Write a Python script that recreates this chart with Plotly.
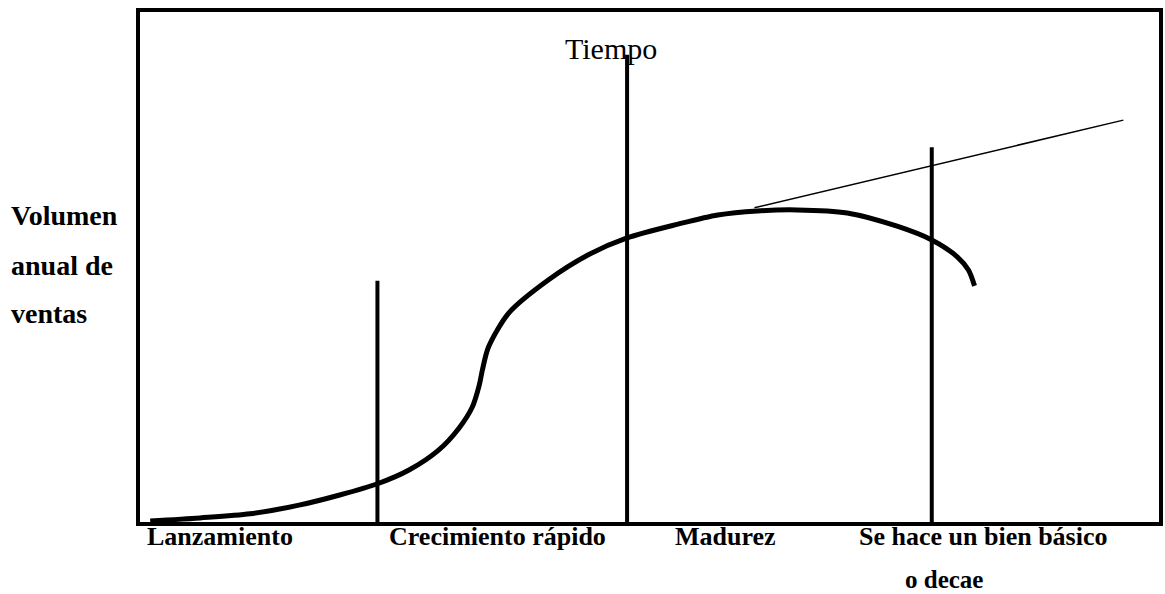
import plotly.graph_objects as go

# Product life cycle curve (time units 0-100, volume units 0-100)
curve_t = [1.0, 5.9, 10.8, 15.6, 19.6, 23.3, 26.4, 29.3, 31.3, 32.6, 33.3, 33.6, 34.2, 36.2,
           40.1, 44.0, 47.8, 52.8, 56.7, 60.6, 64.5, 69.4, 74.3, 77.7, 80.2, 81.3, 81.9]
curve_v = [0.2, 0.8, 1.6, 3.3, 5.3, 7.5, 10.2, 14.1, 18.4, 22.5, 26.9, 29.8, 34.3, 41.0,
           47.5, 52.4, 55.7, 58.4, 60.2, 61.0, 61.2, 60.6, 58.0, 55.3, 52.0, 49.4, 46.3]

# Staple-good trend line
trend_t = [60.3, 96.5]
trend_v = [61.6, 78.8]

# Stage boundaries and heights of their vertical markers
boundary_t = [23.3, 47.8, 77.7]
boundary_top = [47.3, 91.6, 73.5]

# Stage labels
stage_labels = ["Lanzamiento", "Crecimiento rápido", "Madurez", "Se hace un bien básico", "o decae"]
stage_label_t = [0.5, 24.2, 52.3, 70.4]

y_title_lines = ["Volumen", "anual de", "ventas"]
x_title = "Tiempo"

fig = go.Figure()

for t, top in zip(boundary_t, boundary_top):
    fig.add_trace(go.Scatter(x=[t, t], y=[0, top], mode="lines",
                             line=dict(color="black", width=4), hoverinfo="skip"))

fig.add_trace(go.Scatter(x=trend_t, y=trend_v, mode="lines",
                         line=dict(color="black", width=1.5), hoverinfo="skip"))

fig.add_trace(go.Scatter(x=curve_t, y=curve_v, mode="lines",
                         line=dict(color="black", width=5, shape="spline", smoothing=0.8),
                         hoverinfo="skip"))

serif = "Liberation Serif, Times New Roman, serif"
annotations = []
annotations.append(dict(x=46.2, y=92.9, xref="x", yref="y", text=x_title, showarrow=False,
                        font=dict(family=serif, size=30, color="black"),
                        xanchor="center", yanchor="middle"))
for txt, py in zip(y_title_lines, [215, 265, 313]):
    annotations.append(dict(x=(8 - 140) / 1023, y=(522 - py) / 510, xref="paper", yref="paper",
                            text="<b>" + txt + "</b>", showarrow=False,
                            font=dict(family=serif, size=28, color="black"),
                            xanchor="left", yanchor="middle"))
for txt, t in zip(stage_labels[:4], stage_label_t):
    annotations.append(dict(x=t, y=(522 - 536) / 510, xref="x", yref="paper",
                            text="<b>" + txt + "</b>", showarrow=False,
                            font=dict(family=serif, size=26, color="black"),
                            xanchor="left", yanchor="middle"))
annotations.append(dict(x=78.9, y=(522 - 579) / 510, xref="x", yref="paper",
                        text="<b>" + stage_labels[4] + "</b>", showarrow=False,
                        font=dict(family=serif, size=25, color="black"),
                        xanchor="center", yanchor="middle"))

axis_common = dict(range=[0, 100], showgrid=False, zeroline=False, showticklabels=False,
                   ticks="", showline=True, mirror=True, linewidth=4, linecolor="black",
                   fixedrange=True)

fig.update_layout(
    width=1165, height=594,
    margin=dict(l=140, r=2, t=12, b=72),
    paper_bgcolor="white", plot_bgcolor="white",
    showlegend=False,
    xaxis=axis_common, yaxis=axis_common,
    annotations=annotations,
)

fig.write_html("out.html", config={"displayModeBar": False},
               post_script="document.body.style.margin='0';document.body.style.overflow='hidden';")
